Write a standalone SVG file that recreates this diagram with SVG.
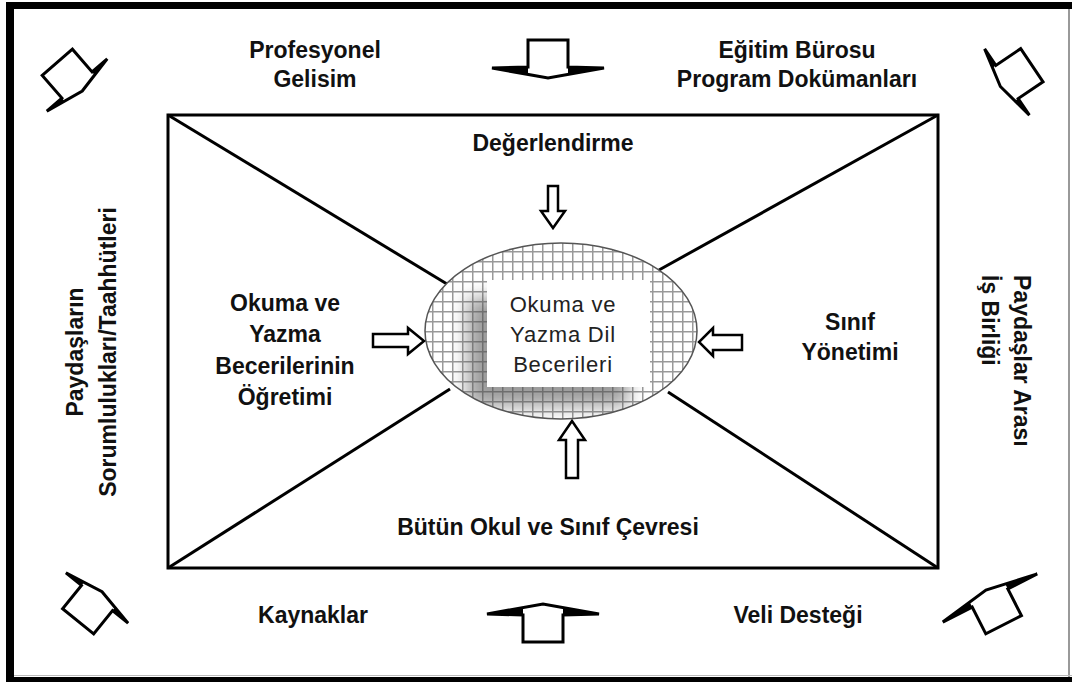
<svg xmlns="http://www.w3.org/2000/svg" width="1072" height="682" viewBox="0 0 1072 682">
  <style>
    .lbl { font-family: "Liberation Sans", Arial, sans-serif; font-weight: bold; font-size: 23px; fill: #111; text-anchor: middle; }
    .core { font-family: "Liberation Sans", Arial, sans-serif; font-size: 22px; fill: #222; text-anchor: middle; letter-spacing: 0.8px; }
    .edge { stroke: #000; stroke-width: 3; fill: none; }
    .arrow { fill: #fff; stroke: #000; stroke-width: 2.5; stroke-linejoin: miter; }
    .blk { fill: #fff; stroke: #000; stroke-width: 3; stroke-linejoin: miter; }
  </style>
  <defs>
    <pattern id="grid" patternUnits="userSpaceOnUse" width="10" height="10" x="2" y="1">
      <rect width="10" height="10" fill="#fff"/>
      <path d="M0.75,0 V10 M0,0.75 H10" stroke="#999" stroke-width="1.5"/>
    </pattern>
    <clipPath id="coreClip">
      <ellipse cx="561" cy="331" rx="136" ry="88"/>
    </clipPath>
    <filter id="soft" x="-30%" y="-30%" width="160%" height="160%">
      <feGaussianBlur stdDeviation="9"/>
    </filter>
    <!-- block arrow pointing down, origin at middle of the wing line -->
    <g id="bigArrow">
      <path class="blk" d="M-20,-27 H20 V0 L56,1 L0,11 L-56,1 L-20,0 Z"/>
      <path d="M20,0 L56,1 L20,7.4 Z M-20,0 L-56,1 L-20,7.4 Z" fill="#000"/>
    </g>
    <g id="cornerArrow">
      <path class="blk" d="M-20,-30 H20 V0 L40,0 L0,8 L-40,0 L-20,0 Z"/>
      <path d="M20,0 L40,0 L20,4 Z M-20,0 L-40,0 L-20,4 Z" fill="#000"/>
    </g>
    <g id="cornerArrowWide">
      <path class="blk" d="M-20,-30 H20 V0 L53,0 L0,9 L-53,0 L-20,0 Z"/>
      <path d="M20,0 L53,0 L20,5.6 Z M-20,0 L-53,0 L-20,5.6 Z" fill="#000"/>
    </g>
  </defs>

  <rect width="1072" height="682" fill="#fff"/>

  <!-- outer frame -->
  <g id="frame">
    <line x1="1069" y1="9" x2="1069" y2="677" stroke="#777" stroke-width="1.5"/>
    <line x1="14" y1="675.5" x2="1072" y2="675.5" stroke="#bbb" stroke-width="1"/>
    <rect x="6" y="2" width="1066" height="7" fill="#000"/>
    <rect x="6" y="2" width="8" height="680" fill="#000"/>
    <rect x="6" y="677" width="1066" height="5" fill="#000"/>
  </g>

  <!-- inner frame and diagonals -->
  <g id="connectors">
    <rect class="edge" x="168" y="115" width="770" height="453"/>
    <line class="edge" x1="168" y1="115" x2="447" y2="284"/>
    <line class="edge" x1="938" y1="115" x2="659" y2="270"/>
    <line class="edge" x1="168" y1="568" x2="450" y2="389"/>
    <line class="edge" x1="938" y1="568" x2="668" y2="392"/>
  </g>

  <!-- central node -->
  <g id="core">
    <ellipse cx="561" cy="331" rx="136" ry="88" fill="url(#grid)"/>
    <g clip-path="url(#coreClip)">
      <rect x="468" y="298" width="160" height="108" fill="#4a4a4a" opacity="0.55" filter="url(#soft)"/>
    </g>
    <ellipse cx="561" cy="331" rx="136" ry="88" fill="none" stroke="#555" stroke-width="1.5"/>
    <rect x="487" y="280" width="163" height="107" fill="#fff"/>
    <text class="core" x="563" y="312">Okuma ve</text>
    <text class="core" x="563" y="342">Yazma Dil</text>
    <text class="core" x="563" y="372">Becerileri</text>
  </g>

  <!-- inner arrows towards the centre -->
  <g id="inner-arrows">
    <polygon class="arrow" points="548,186 558,186 558,211 565,211 553,228 541,211 548,211"/>
    <polygon class="arrow" points="572,421 585,440 578,440 578,478 566,478 566,440 559,440"/>
    <polygon class="arrow" points="373,334 408,334 408,328 424,341 408,354 408,347 373,347"/>
    <polygon class="arrow" points="742,335 713,335 713,328 699,342 713,356 713,350 742,350"/>
  </g>

  <!-- outer block arrows -->
  <g id="outer-arrows">
    <use href="#bigArrow" transform="translate(548,67)"/>
    <use href="#bigArrow" transform="translate(543,615) rotate(180)"/>
    <use href="#cornerArrow" transform="translate(77,85) rotate(-41)"/>
    <use href="#cornerArrow" transform="translate(1007,82) rotate(56)"/>
    <use href="#cornerArrow" transform="translate(97,598) rotate(-141)"/>
    <use href="#cornerArrowWide" transform="translate(990,598) rotate(153)"/>
  </g>

  <g id="profesyonel">
    <text class="lbl" x="315" y="58">Profesyonel</text>
    <text class="lbl" x="315" y="87">Gelisim</text>
  </g>
  <g id="egitim">
    <text class="lbl" x="797" y="58">Eğitim Bürosu</text>
    <text class="lbl" x="797" y="87">Program Dokümanları</text>
  </g>
  <g id="degerlendirme">
    <text class="lbl" x="553" y="151">Değerlendirme</text>
  </g>
  <g id="ogretim">
    <text class="lbl" x="285" y="311">Okuma ve</text>
    <text class="lbl" x="285" y="342">Yazma</text>
    <text class="lbl" x="285" y="374">Becerilerinin</text>
    <text class="lbl" x="285" y="405">Öğretimi</text>
  </g>
  <g id="sinif">
    <text class="lbl" x="850" y="330">Sınıf</text>
    <text class="lbl" x="850" y="360">Yönetimi</text>
  </g>
  <g id="cevre">
    <text class="lbl" x="548" y="535">Bütün Okul ve Sınıf Çevresi</text>
  </g>
  <g id="kaynaklar">
    <text class="lbl" x="313" y="623">Kaynaklar</text>
  </g>
  <g id="veli">
    <text class="lbl" x="798" y="623">Veli Desteği</text>
  </g>
  <g id="sorumluluk">
    <text class="lbl" transform="translate(83,352) rotate(-90)">Paydaşların</text>
    <text class="lbl" transform="translate(116,352) rotate(-90)">Sorumlulukları/Taahhütleri</text>
  </g>
  <g id="isbirligi">
    <text class="lbl" style="text-anchor:start" transform="translate(1014,275) rotate(90)">Paydaşlar Arası</text>
    <text class="lbl" style="text-anchor:start" transform="translate(982,275) rotate(90)">İş Birliği</text>
  </g>
</svg>
